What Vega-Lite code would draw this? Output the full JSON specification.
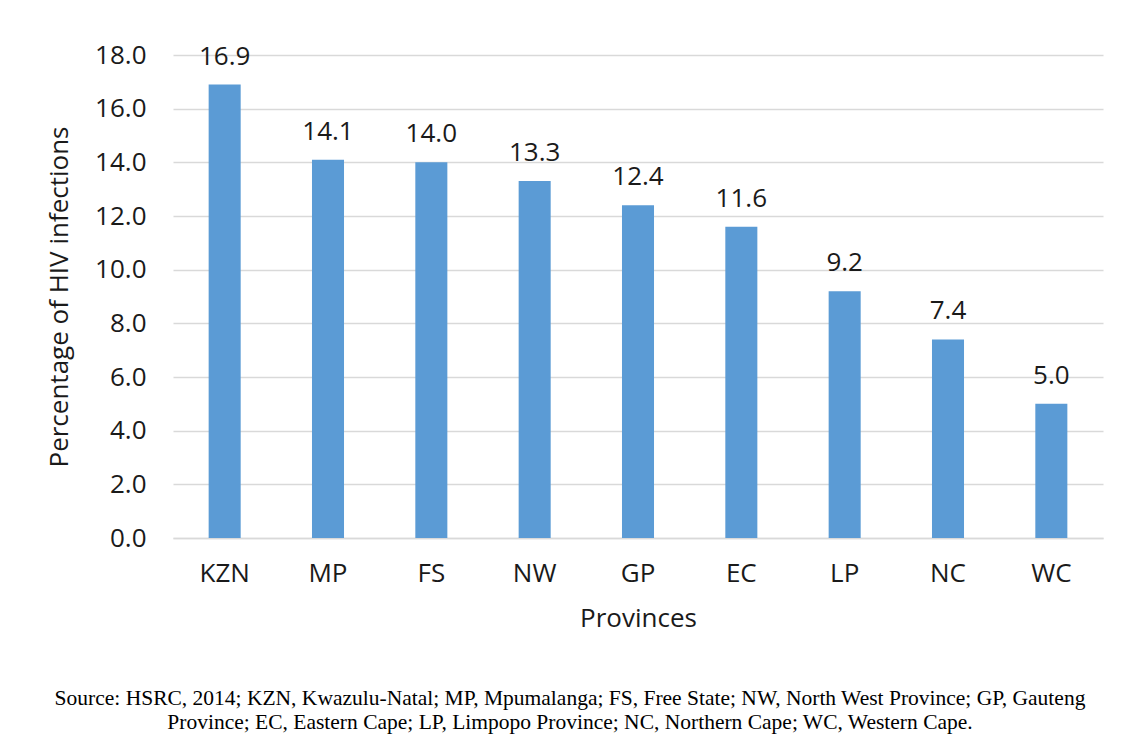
{
  "$schema": "https://vega.github.io/schema/vega-lite/v6.json",
  "width": 930,
  "height": 483,
  "autosize": "none",
  "padding": {"left": 173, "top": 55, "right": 23, "bottom": 202},
  "background": "white",
  "data": {
    "values": [
      {"province": "KZN", "pct": 16.9},
      {"province": "MP", "pct": 14.1},
      {"province": "FS", "pct": 14.0},
      {"province": "NW", "pct": 13.3},
      {"province": "GP", "pct": 12.4},
      {"province": "EC", "pct": 11.6},
      {"province": "LP", "pct": 9.2},
      {"province": "NC", "pct": 7.4},
      {"province": "WC", "pct": 5.0}
    ]
  },
  "title": {
    "text": ["Source: HSRC, 2014; KZN, Kwazulu-Natal; MP, Mpumalanga; FS, Free State; NW, North West Province; GP, Gauteng", "Province; EC, Eastern Cape; LP, Limpopo Province; NC, Northern Cape; WC, Western Cape."],
    "orient": "bottom",
    "anchor": "middle",
    "dx": -68,
    "offset": 57,
    "font": "Liberation Serif",
    "fontSize": 21.5,
    "fontWeight": "normal",
    "color": "#000000",
    "lineHeight": 24
  },
  "encoding": {
    "x": {
      "field": "province",
      "type": "nominal",
      "sort": null,
      "scale": {"paddingInner": 0.69, "paddingOuter": 0.345},
      "axis": {
        "title": "Provinces",
        "labelAngle": 0,
        "labelFont": "Open Sans",
        "labelFontSize": 26,
        "labelColor": "#1a1a1a",
        "labelPadding": 22,
        "ticks": false,
        "domainColor": "#d9d9d9",
        "domainWidth": 1.5,
        "titleFont": "Open Sans",
        "titleFontSize": 26,
        "titleFontWeight": "normal",
        "titleColor": "#1a1a1a",
        "titlePadding": 19
      }
    },
    "y": {
      "field": "pct",
      "type": "quantitative",
      "scale": {"domain": [0, 18], "nice": false},
      "axis": {
        "title": "Percentage of HIV infections",
        "values": [0, 2, 4, 6, 8, 10, 12, 14, 16, 18],
        "format": ".1f",
        "labelFont": "Open Sans",
        "labelFontSize": 26,
        "labelColor": "#1a1a1a",
        "labelPadding": 27,
        "ticks": false,
        "domain": false,
        "gridColor": "#d9d9d9",
        "gridWidth": 1.5,
        "titleFont": "Open Sans",
        "titleFontSize": 26,
        "titleFontWeight": "normal",
        "titleColor": "#1a1a1a",
        "titlePadding": 22
      }
    }
  },
  "layer": [
    {"mark": {"type": "bar", "color": "#5B9BD5"}},
    {
      "mark": {"type": "text", "baseline": "alphabetic", "dy": -20, "font": "Open Sans", "fontSize": 26, "color": "#1a1a1a"},
      "encoding": {"text": {"field": "pct", "type": "quantitative", "format": ".1f"}}
    }
  ],
  "config": {"view": {"stroke": null}}
}
